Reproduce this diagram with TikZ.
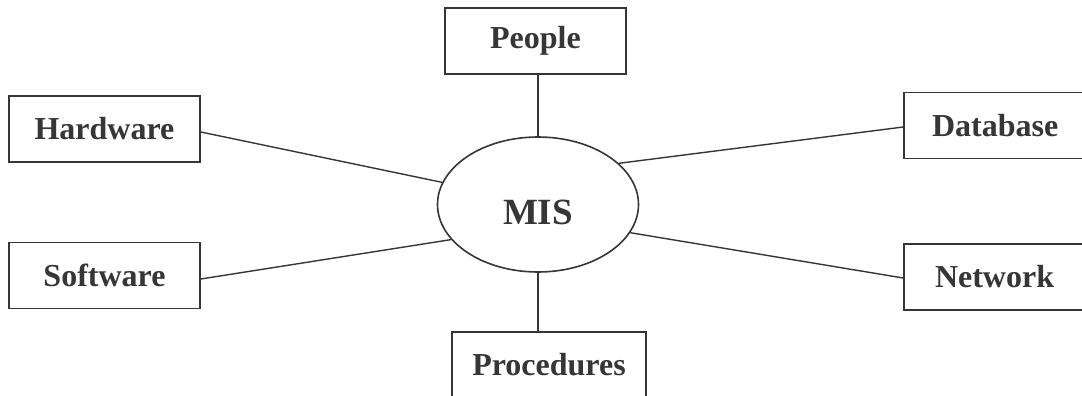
\documentclass[tikz,border=0pt]{standalone}
\usepackage{fontspec}
\setmainfont{Liberation Serif}
\usetikzlibrary{shapes.geometric}
\definecolor{ink}{HTML}{363636}
\begin{document}
\begin{tikzpicture}[x=1pt,y=-1pt,
  box/.style={draw=ink,line width=1.6pt,rectangle,minimum height=66pt,inner sep=0pt,
    font=\fontsize{32}{36}\selectfont\bfseries,text=ink},
  link/.style={draw=ink,line width=1.4pt}]
\useasboundingbox (0,0) rectangle (1082,396);
\clip (0,0) rectangle (1082,396);
\fill[white] (0,0) rectangle (1082,396);
\node[box,minimum width=181pt] (people) at (535.5,41) {People};
\node[box,minimum width=191pt] (hw) at (104.5,129) {Hardware};
\node[box,minimum width=191pt] (sw) at (104.5,275.5) {Software};
\node[box,minimum width=186pt,text width=180pt,align=left] (db) at (997,125.5) {\hspace*{25pt}Database};
\node[box,minimum width=186pt,text width=180pt,align=left] (net) at (997,277) {\hspace*{28pt}Network};
\node[box,minimum width=194pt] (proc) at (549,365) {Procedures};
\node[draw=ink,line width=1.6pt,ellipse,minimum width=201pt,minimum height=135pt,inner sep=0pt] (mis) at (538,204.5) {};
\node[font=\fontsize{37}{40}\selectfont\bfseries,text=ink,inner sep=0pt] (mistext) at (538,212.5) {MIS};
\draw[link] (people.south -| mis.north) -- (mis.north);
\draw[link] (mis.south) -- (proc.north -| mis.south);
\draw[link] ([yshift=-3pt]hw.east) -- (mis.167);
\draw[link] ([yshift=-3.5pt]sw.east) -- (mis.202);
\draw[link] (mis.27) -- ([yshift=-1.5pt]db.west);
\draw[link] (mis.343) -- ([yshift=-1pt]net.west);
\end{tikzpicture}
\end{document}
